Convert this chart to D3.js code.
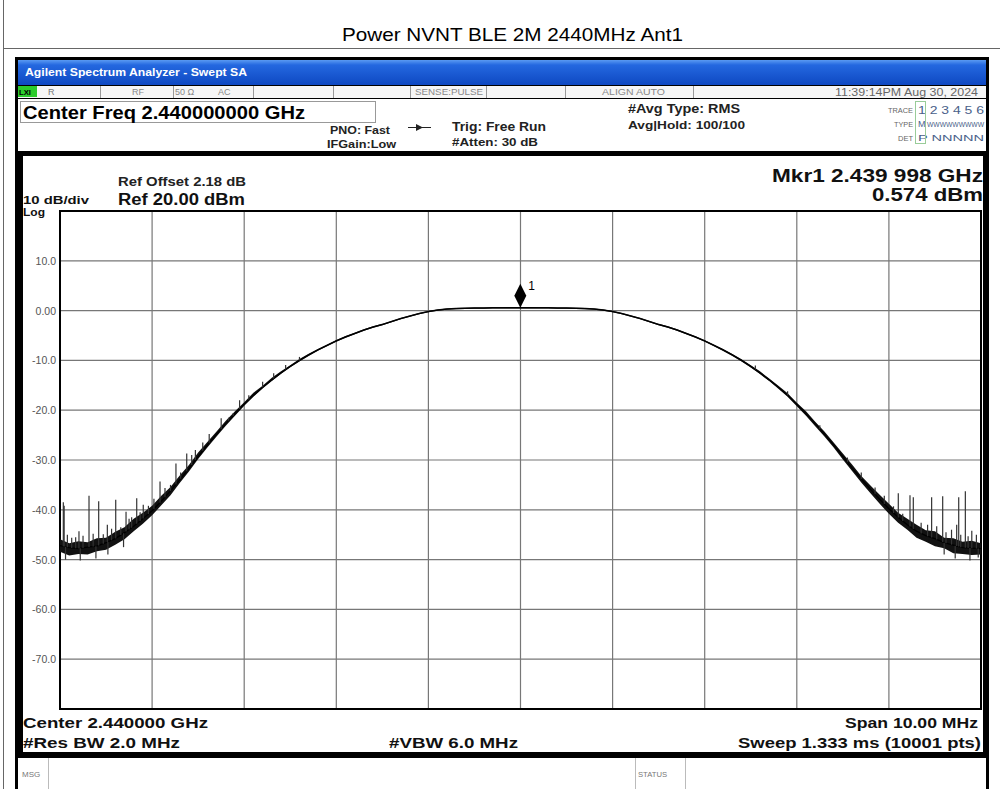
<!DOCTYPE html>
<html><head><meta charset="utf-8">
<script src="https://cdn.jsdelivr.net/npm/d3@7"></script>
<style>html,body{margin:0;padding:0;background:#fff;} svg{display:block;}</style>
</head><body><svg id="c" width="1000" height="789"></svg>
<script>
// ---------------- DATA ----------------
const freqMHz = [2435.0,2435.1,2435.2,2435.3,2435.4,2435.5,2435.6,2435.7,2435.8,2435.9,
 2436.0,2436.1,2436.2,2436.3,2436.4,2436.5,2436.6,2436.7,2436.8,2436.9,
 2437.0,2437.1,2437.2,2437.3,2437.4,2437.5,2437.6,2437.7,2437.8,2437.9,
 2438.0,2438.1,2438.2,2438.3,2438.4,2438.5,2438.6,2438.7,2438.8,2438.9,
 2439.0,2439.1,2439.2,2439.3,2439.4,2439.5,2439.6,2439.7,2439.8,2439.9,
 2440.0,2440.1,2440.2,2440.3,2440.4,2440.5,2440.6,2440.7,2440.8,2440.9,
 2441.0,2441.1,2441.2,2441.3,2441.4,2441.5,2441.6,2441.7,2441.8,2441.9,
 2442.0,2442.1,2442.2,2442.3,2442.4,2442.5,2442.6,2442.7,2442.8,2442.9,
 2443.0,2443.1,2443.2,2443.3,2443.4,2443.5,2443.6,2443.7,2443.8,2443.9,
 2444.0,2444.1,2444.2,2444.3,2444.4,2444.5,2444.6,2444.7,2444.8,2444.9,2445.0];
const traceDbm = [-47.2,-47.6,-47.8,-47.5,-47.3,-46.6,-45.8,-44.6,-43.3,-41.8,
 -40.2,-38.3,-36.2,-34.0,-31.7,-29.3,-27.0,-24.8,-22.7,-20.7,
 -18.8,-17.0,-15.4,-13.9,-12.5,-11.2,-10.0,-8.9,-7.9,-7.0,
 -6.1,-5.3,-4.6,-3.9,-3.3,-2.8,-2.2,-1.6,-1.1,-0.6,
 -0.2,0.1,0.3,0.4,0.45,0.5,0.5,0.55,0.55,0.57,
 0.57,0.57,0.55,0.55,0.5,0.5,0.45,0.4,0.3,0.1,
 -0.2,-0.6,-1.1,-1.6,-2.2,-2.8,-3.3,-3.9,-4.6,-5.3,
 -6.1,-7.0,-7.9,-8.9,-10.0,-11.2,-12.5,-13.9,-15.4,-17.0,
 -18.8,-20.7,-22.7,-24.8,-27.0,-29.3,-31.6,-33.8,-35.9,-37.9,
 -39.8,-41.5,-43.0,-44.3,-45.2,-45.8,-46.6,-47.1,-47.6,-47.7,-47.8];
const envHighDb = [1.3,0.9,1.5,1.0,1.6,1.0,1.4,1.1,1.5,1.2,
 1.0,1.1,0.8,0.9,0.7,0.8,0.6,0.5,0.6,0.5,
 0.4,0.5,0.3,0.4,0.3,0.25,0.3,0.25,0.2,0.2,
 0.2,0.2,0.15,0.15,0.15,0.15,0.15,0.15,0.15,0.15,
 0.15,0.15,0.15,0.15,0.15,0.15,0.15,0.15,0.15,0.15,
 0.15,0.15,0.15,0.15,0.15,0.15,0.15,0.15,0.15,0.15,
 0.15,0.15,0.15,0.15,0.15,0.15,0.15,0.15,0.15,0.15,
 0.15,0.2,0.2,0.2,0.25,0.25,0.3,0.25,0.3,0.4,
 0.3,0.5,0.4,0.5,0.5,0.6,0.7,0.6,0.8,0.9,
 1.0,0.9,1.2,1.3,1.1,1.5,1.0,1.4,1.2,1.5,1.1];
const envLowDb = [1.2,1.6,1.1,1.5,1.0,1.4,1.2,1.3,1.0,1.0,
 0.9,0.8,0.9,0.6,0.6,0.5,0.5,0.5,0.4,0.4,
 0.3,0.3,0.25,0.25,0.2,0.2,0.2,0.2,0.15,0.15,
 0.15,0.15,0.15,0.15,0.15,0.15,0.15,0.15,0.15,0.15,
 0.15,0.15,0.15,0.15,0.15,0.15,0.15,0.15,0.15,0.15,
 0.15,0.15,0.15,0.15,0.15,0.15,0.15,0.15,0.15,0.15,
 0.15,0.15,0.15,0.15,0.15,0.15,0.15,0.15,0.15,0.15,
 0.15,0.15,0.2,0.2,0.2,0.25,0.25,0.25,0.3,0.3,
 0.4,0.4,0.5,0.5,0.5,0.6,0.6,0.7,0.8,0.9,
 1.0,1.1,1.0,1.3,1.2,1.5,1.1,1.6,1.3,1.4,1.2];
const spikeMHz = [2435.036,2435.045,2435.127,2435.206,2435.315,2435.420,2435.514,2435.605,2435.717,2435.778,
 2435.833,2435.904,2436.086,2436.259,2436.376,2436.430,2436.75,2436.95,2437.20,2437.45,
 2444.102,2444.229,2444.265,2444.464,2444.519,2444.584,2444.680,2444.736,2444.758,2444.830,2444.900,
 2435.08,2435.17,2435.25,2435.36,2435.47,2435.56,2435.66,2435.75,2435.87,2435.96,
 2436.02,2436.14,2436.20,2436.31,2436.47,2436.55,2436.62,2436.83,2436.88,2437.05,2437.32,2437.60,
 2442.55,2442.90,2443.25,2443.55,2443.70,2443.85,2443.95,2444.05,2444.15,2444.35,
 2444.42,2444.62,2444.78,2444.86,2444.95,
 2435.06,2435.22,2435.39,2435.52,2435.69,2444.60,2444.72,2444.88,2444.97];
const spikeTopDbm = [-38.5,-39.2,-45.6,-44.3,-37.2,-38.3,-43.0,-38.0,-40.4,-41.5,
 -37.7,-39.0,-34.3,-30.7,-28.7,-29.0,-21.6,-18.0,-14.3,-10.9,
 -36.7,-37.1,-37.5,-37.5,-43.3,-37.3,-44.0,-43.0,-37.5,-36.3,-44.2,
 -45.0,-45.5,-45.2,-44.8,-44.9,-43.8,-43.5,-41.8,-40.5,-39.2,
 -37.8,-35.6,-35.0,-32.5,-28.0,-26.5,-24.8,-21.5,-20.6,-17.0,-12.6,-9.3,
 -11.0,-16.2,-23.0,-29.5,-32.5,-35.5,-37.2,-39.3,-40.8,-42.6,
 -43.0,-44.5,-45.0,-45.3,-45.0,
 -50.0,-50.2,-49.8,-49.0,-47.5,-49.0,-49.8,-50.2,-49.6];
const xGridMHz = [2435,2436,2437,2438,2439,2440,2441,2442,2443,2444,2445];
const yGridDbm = [20,10,0,-10,-20,-30,-40,-50,-60,-70,-80];
const yTickValues = [10,0,-10,-20,-30,-40,-50,-60,-70];
const yTickLabels = ["10.0","0.00","-10.0","-20.0","-30.0","-40.0","-50.0","-60.0","-70.0"];
const markerMHz = 2439.998;
const markerDbm = 0.574;

// ---------------- DRAWING ----------------
const svg = d3.select("#c");
const FF = "'Liberation Sans', Arial, Helvetica, sans-serif";
function t(s, x, y, o = {}) {
  const e = svg.append("text").attr("x", x).attr("y", y).text(s)
    .attr("font-family", o.ff || FF).attr("font-size", o.size || 12)
    .attr("font-weight", o.w || "normal").attr("fill", o.fill || "#000")
    .attr("text-anchor", o.anchor || "start");
  if (o.len) e.attr("textLength", o.len).attr("lengthAdjust", "spacingAndGlyphs");
  return e;
}
function ln(x1, y1, x2, y2, c, w) {
  svg.append("line").attr("x1", x1).attr("y1", y1).attr("x2", x2).attr("y2", y2)
    .attr("stroke", c).attr("stroke-width", w || 1);
}
function rc(x, y, w, h, fill, stroke, sw) {
  return svg.append("rect").attr("x", x).attr("y", y).attr("width", w).attr("height", h)
    .attr("fill", fill || "none").attr("stroke", stroke || "none").attr("stroke-width", sw || 1);
}

// outer frame + title
ln(3.5, 0, 3.5, 789, "#666", 1);
ln(3, 48.5, 1000, 48.5, "#666", 1);
t("Power NVNT BLE 2M 2440MHz Ant1", 342, 41, {size: 19, len: 341});

// analyzer screen frame
rc(15, 57, 974, 732, "#000");
const defs = svg.append("defs");
const g = defs.append("linearGradient").attr("id", "blue").attr("x1", 0).attr("y1", 0).attr("x2", 0).attr("y2", 1);
g.append("stop").attr("offset", "0").attr("stop-color", "#5a9af2");
g.append("stop").attr("offset", "0.2").attr("stop-color", "#2468e0");
g.append("stop").attr("offset", "1").attr("stop-color", "#0e48c2");
rc(18, 60, 968, 25, "url(#blue)");
t("Agilent Spectrum Analyzer - Swept SA", 25, 76, {size: 11, w: "bold", fill: "#fff", len: 222});

// status row
rc(18, 86, 968, 12, "#f6f6f6");
[100, 173, 253, 333, 410, 486, 565, 693].forEach(x => ln(x + 0.5, 86, x + 0.5, 98, "#999", 1));
rc(18, 86, 19, 11, "#2ccc2c");
t("LXI", 19, 95, {size: 8, w: "bold", fill: "#000", len: 12});
t("R", 48, 95, {size: 9, fill: "#777"});
t("RF", 132, 95, {size: 9, fill: "#888"});
t("50 Ω", 175, 95, {size: 9, fill: "#888"});
t("AC", 218, 95, {size: 9, fill: "#888"});
t("SENSE:PULSE", 415, 95, {size: 9, fill: "#888", len: 68});
t("ALIGN AUTO", 602, 95, {size: 9, fill: "#888", len: 63});
t("11:39:14PM Aug 30, 2024", 835, 96, {size: 10, fill: "#666", len: 143});

// header panel
rc(18, 99, 968, 52, "#fff");
rc(20.5, 101.5, 355, 21, "none", "#999", 1);
t("Center Freq 2.440000000 GHz", 23, 119, {size: 18, w: "bold", len: 282});
t("PNO: Fast", 330, 134, {size: 10.5, w: "bold", fill: "#222", len: 60});
t("IFGain:Low", 327, 148, {size: 10.5, w: "bold", fill: "#222", len: 69});
ln(408, 127.5, 431, 127.5, "#222", 1);
svg.append("path").attr("d", "M416,124 L423,127.5 L416,131 Z").attr("fill", "#222");
t("Trig: Free Run", 452, 131, {size: 12.5, w: "bold", fill: "#222", len: 94});
t("#Atten: 30 dB", 452, 146, {size: 11, w: "bold", fill: "#222", len: 86});
t("#Avg Type: RMS", 628, 113, {size: 12, w: "bold", fill: "#222", len: 112});
t("Avg|Hold: 100/100", 628, 129, {size: 11.5, w: "bold", fill: "#222", len: 117});
t("TRACE", 913, 113, {size: 8, fill: "#666", anchor: "end", len: 25});
t("TYPE", 913, 127, {size: 8, fill: "#666", anchor: "end", len: 19});
t("DET", 913, 141, {size: 8, fill: "#666", anchor: "end", len: 15});
t("1 2 3 4 5 6", 918, 114, {size: 10.5, fill: "#4a5f8a", len: 66});
t("M", 918, 127, {size: 9, fill: "#4a5f8a"});
t("WWWWWWWWW", 927, 127, {size: 7, fill: "#4a5f8a", len: 57});
t("P NNNNN", 918, 141, {size: 9.5, fill: "#4a5f8a", len: 66});
rc(915.5, 101.5, 10, 42, "none", "#9c9", 1);

// plot panel
rc(23, 156, 960, 596, "#fff");
t("10 dB/div", 23, 204, {size: 11.5, w: "bold", fill: "#111", len: 66});
t("Log", 23, 216, {size: 11.5, w: "bold", fill: "#111", len: 22});
t("Ref Offset 2.18 dB", 118, 186, {size: 12.5, w: "bold", fill: "#222", len: 128});
t("Ref 20.00 dBm", 118, 205, {size: 16, w: "bold", fill: "#111", len: 127});
t("Mkr1 2.439 998 GHz", 983, 182, {size: 19, w: "bold", fill: "#111", anchor: "end", len: 211});
t("0.574 dBm", 983, 201, {size: 19, w: "bold", fill: "#111", anchor: "end", len: 111});

const x = d3.scaleLinear().domain([2435, 2445]).range([60, 981]);
const y = d3.scaleLinear().domain([-80, 20]).range([709, 211]);

const grid = svg.append("g");
xGridMHz.forEach(f => grid.append("line").attr("x1", x(f)).attr("x2", x(f)).attr("y1", y(20)).attr("y2", y(-80))
  .attr("stroke", "#777").attr("stroke-width", 1.2));
yGridDbm.forEach(v => grid.append("line").attr("x1", x(2435)).attr("x2", x(2445)).attr("y1", y(v)).attr("y2", y(v))
  .attr("stroke", "#777").attr("stroke-width", 1.2));
svg.append("rect").attr("x", x(2435)).attr("y", y(20)).attr("width", x(2445) - x(2435)).attr("height", y(-80) - y(20))
  .attr("fill", "none").attr("stroke", "#000").attr("stroke-width", 2);

yTickValues.forEach((v, i) => t(yTickLabels[i], 56, y(v) + 4, {size: 10.5, fill: "#555", anchor: "end"}));

// trace
const pts = freqMHz.map((f, i) => ({f, v: traceDbm[i], hi: traceDbm[i] + envHighDb[i], lo: traceDbm[i] - envLowDb[i]}));
const area = d3.area().x(d => x(d.f)).y0(d => y(d.lo)).y1(d => y(d.hi)).curve(d3.curveLinear);
svg.append("path").datum(pts).attr("d", area).attr("fill", "#111");
const line = d3.line().x(d => x(d.f)).y(d => y(d.v));
svg.append("path").datum(pts).attr("d", line).attr("fill", "none").attr("stroke", "#000").attr("stroke-width", 1.4);

// spikes (peaks above and dips below the trace)
const baseAt = f => {
  const i = Math.max(1, d3.bisectLeft(freqMHz, f));
  const a = pts[i - 1], b = pts[i];
  const k = (f - a.f) / (b.f - a.f);
  return a.v + (b.v - a.v) * k;
};
spikeMHz.forEach((f, i) => svg.append("line").attr("x1", x(f)).attr("x2", x(f))
  .attr("y1", y(baseAt(f))).attr("y2", y(spikeTopDbm[i])).attr("stroke", "#333").attr("stroke-width", 1.2));

// marker
const mx = x(markerMHz), my = y(markerDbm);
svg.append("path").attr("d", `M${mx},${my} L${mx + 6},${my - 12} L${mx},${my - 24} L${mx - 6},${my - 12} Z`).attr("fill", "#000");
t("1", mx + 8, my - 18, {size: 12, fill: "#000"});

// bottom labels
t("Center 2.440000 GHz", 23, 728, {size: 15, w: "bold", fill: "#111", len: 185});
t("#Res BW 2.0 MHz", 23, 748, {size: 15, w: "bold", fill: "#111", len: 157});
t("#VBW 6.0 MHz", 389, 748, {size: 15, w: "bold", fill: "#111", len: 129});
t("Span 10.00 MHz", 978, 728, {size: 15, w: "bold", fill: "#111", anchor: "end", len: 133});
t("Sweep  1.333 ms (10001 pts)", 981, 748, {size: 15, w: "bold", fill: "#111", anchor: "end", len: 243});

// msg bar
rc(18, 758, 968, 31, "#fff");
[48, 635, 685].forEach(xx => ln(xx + 0.5, 758, xx + 0.5, 789, "#bbb", 1));
t("MSG", 22, 777, {size: 8, fill: "#777"});
t("STATUS", 638, 777, {size: 8, fill: "#777", len: 29});
</script></body></html>
